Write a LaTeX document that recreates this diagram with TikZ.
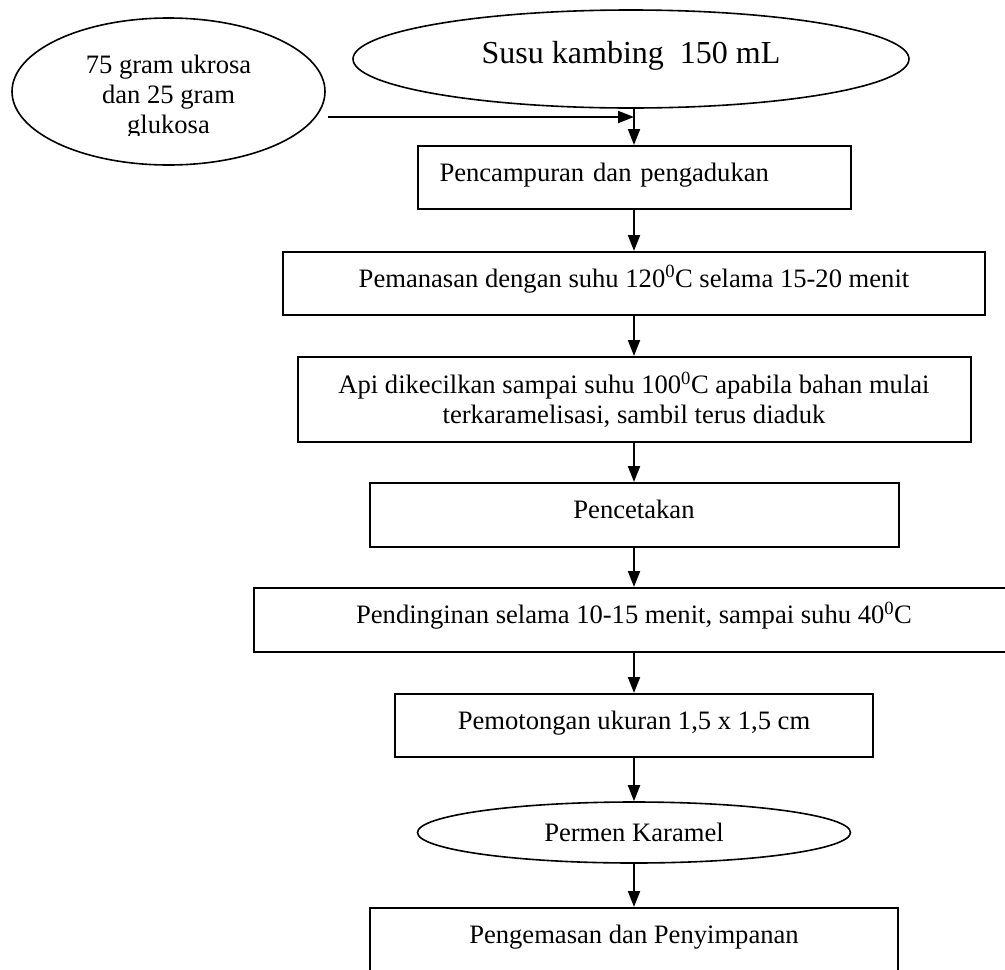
\documentclass[tikz,border=0pt]{standalone}
\usepackage{fontspec}
\setmainfont{Liberation Serif}
\usetikzlibrary{shapes.geometric,arrows.meta}
\begin{document}
\begin{tikzpicture}[x=1pt,y=-1pt,
  every node/.style={font=\fontsize{26.6pt}{30pt}\selectfont},
  boxbase/.style={draw, rectangle, line width=2pt, inner sep=0pt},
  box/.style={boxbase, text height=19pt, text depth=12pt},
  oval/.style={draw, ellipse, line width=1.6pt, inner sep=0pt},
  arr/.style={line width=2pt, -{Triangle[length=16pt,width=12pt]}}]
\clip (0,0) rectangle (1005,970);

% inputs
\node[oval, minimum width=556pt, minimum height=98pt,
      font=\fontsize{32pt}{36pt}\selectfont, text height=22pt, text depth=14pt]
  (susu) at (631,59) {Susu kambing\ \ 150 mL};
\node[oval, minimum width=313pt, minimum height=147pt] (gula) at (168.5,91.5) {};
\begin{scope}
  \clip (0,0) rectangle (340,135);
  \node[align=center, inner sep=0pt] (gulatext) at (168.5,97)
    {75 gram ukrosa\\dan 25 gram\\glukosa};
\end{scope}

% process steps
\node[box, minimum height=63pt, text width=389pt, inner xsep=22pt, align=left]
  (b1) at (634,177.5) {Pencampuran dan pengadukan};
\node[box, minimum width=702pt, minimum height=63pt]
  (b2) at (634,283.5) {Pemanasan dengan suhu 120\textsuperscript{0}C selama 15-20 menit};
\node[boxbase, minimum width=673pt, minimum height=85pt, align=center]
  (b3) at (634,399.5) {Api dikecilkan sampai suhu 100\textsuperscript{0}C apabila bahan mulai\\terkaramelisasi, sambil terus diaduk};
\node[box, minimum width=529pt, minimum height=64pt]
  (b4) at (634,515) {Pencetakan};
\node[box, minimum width=761pt, minimum height=64pt]
  (b5) at (634,620) {Pendinginan selama 10-15 menit, sampai suhu 40\textsuperscript{0}C};
\node[box, minimum width=478pt, minimum height=63pt]
  (b6) at (634,725.5) {Pemotongan ukuran 1,5 x 1,5 cm};
\node[oval, minimum width=433pt, minimum height=61pt]
  (permen) at (634,832.5) {Permen Karamel};
\node[box, minimum width=528pt, minimum height=64pt]
  (b7) at (634,940) {Pengemasan dan Penyimpanan};

% connectors
\coordinate (hs) at (328,117);
\draw[arr] (hs) -- (hs -| b1.north);
\draw[arr] (susu.south -| b1.north) -- (b1.north);
\draw[arr] (b1.south) -- (b2.north);
\draw[arr] (b2.south) -- (b3.north);
\draw[arr] (b3.south) -- (b4.north);
\draw[arr] (b4.south) -- (b5.north);
\draw[arr] (b5.south) -- (b6.north);
\draw[arr] (b6.south) -- (permen.north);
\draw[arr] (permen.south) -- (b7.north);
\end{tikzpicture}
\end{document}
